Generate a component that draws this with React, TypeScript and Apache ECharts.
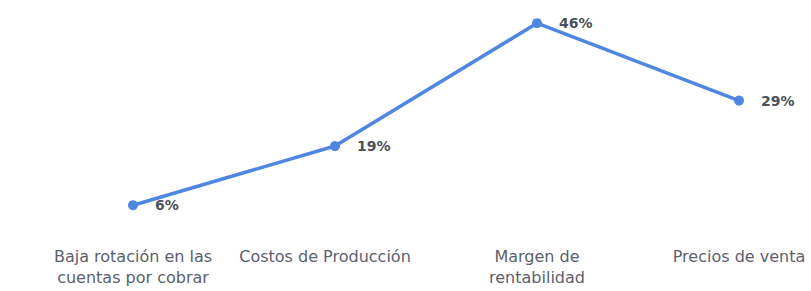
import React, { useEffect, useRef } from "react";
import * as echarts from "echarts";

const categories = [
  "Baja rotación en las\ncuentas por cobrar",
  "Costos de Producción",
  "Margen de\nrentabilidad",
  "Precios de venta",
];
const values = [6, 19, 46, 29];

export default function App() {
  const ref = useRef<HTMLDivElement>(null);
  useEffect(() => {
    document.body.style.margin = "0";
    const chart = echarts.init(ref.current!, null, { renderer: "svg" });
    const labelFont = {
      fontFamily: "DejaVu Sans",
      fontSize: 16,
      lineHeight: 21,
      color: "#5c606c",
    };
    chart.setOption({
      animation: false,
      backgroundColor: "#ffffff",
      grid: { left: 133, right: 72, top: 5, bottom: 58.5, containLabel: false },
      xAxis: {
        type: "category",
        data: categories,
        boundaryGap: false,
        axisLine: { show: false },
        axisTick: { show: false },
        axisLabel: {
          interval: 0,
          margin: 13,
          ...labelFont,
          formatter: (v: string, i: number) => (i === 1 ? `{s|${v}}` : v),
          rich: { s: { ...labelFont, padding: [0, 20, 0, 0] } },
        },
      },
      yAxis: {
        type: "value",
        min: 0,
        max: 50,
        show: false,
        splitLine: { show: false },
      },
      series: [
        {
          type: "line",
          data: values,
          symbol: "circle",
          symbolSize: 10,
          lineStyle: { color: "#4f86e2", width: 3.5 },
          itemStyle: { color: "#4f86e2" },
          label: {
            show: true,
            position: "right",
            distance: 17,
            formatter: "{c}%",
            fontFamily: "DejaVu Sans",
            fontSize: 14,
            fontWeight: "bold",
            color: "#4c505a",
          },
        },
      ],
    });
    return () => chart.dispose();
  }, []);
  return <div ref={ref} style={{ width: 811, height: 291 }} />;
}
